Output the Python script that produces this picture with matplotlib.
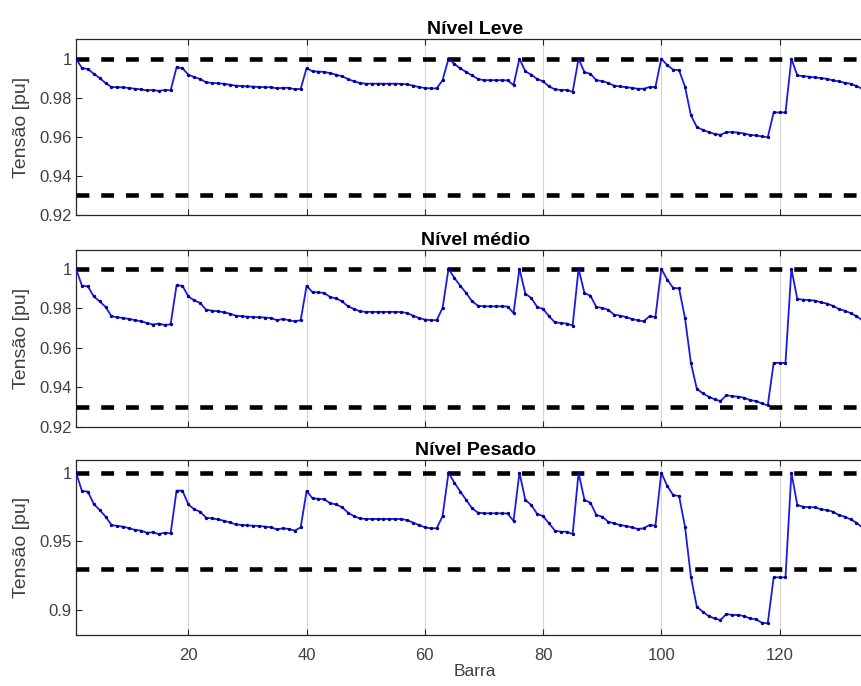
import numpy as np
import matplotlib
matplotlib.use('Agg')
import matplotlib.pyplot as plt

plt.rcParams['font.family'] = ['Liberation Sans', 'DejaVu Sans']

barra = np.arange(1, 136)

# perfil de tensao [pu] por barra
tensao_leve = [
    1.0, 0.9952, 0.9947, 0.9923, 0.9901, 0.9875, 0.9855, 0.9854, 0.9853, 0.9850,
    0.9846, 0.9843, 0.9838, 0.9840, 0.9835, 0.9840, 0.9838, 0.9955, 0.9952, 0.9918,
    0.9906, 0.9896, 0.9879, 0.9876, 0.9874, 0.9872, 0.9867, 0.9862, 0.9860, 0.9858,
    0.9857, 0.9855, 0.9854, 0.9854, 0.9848, 0.9851, 0.9851, 0.9843, 0.9846, 0.9952,
    0.9935, 0.9934, 0.9932, 0.9926, 0.9918, 0.9910, 0.9896, 0.9884, 0.9876, 0.9872,
    0.9872, 0.9872, 0.9872, 0.9872, 0.9872, 0.9871, 0.9869, 0.9862, 0.9855, 0.9850,
    0.9848, 0.9848, 0.9890, 1.0, 0.9973, 0.9950, 0.9932, 0.9914, 0.9896, 0.9890,
    0.9890, 0.9890, 0.9890, 0.9889, 0.9865, 1.0, 0.9935, 0.9918, 0.9896, 0.9884,
    0.9858, 0.9843, 0.9840, 0.9840, 0.9830, 1.0, 0.9930, 0.9923, 0.9890, 0.9885,
    0.9876, 0.9862, 0.9858, 0.9854, 0.9851, 0.9846, 0.9846, 0.9855, 0.9855, 1.0,
    0.9967, 0.9944, 0.9941, 0.9857, 0.9711, 0.9650, 0.9636, 0.9624, 0.9615, 0.9610,
    0.9624, 0.9624, 0.9622, 0.9617, 0.9610, 0.9607, 0.9602, 0.9598, 0.9725, 0.9725,
    0.9725, 1.0, 0.9914, 0.9911, 0.9908, 0.9904, 0.9901, 0.9897, 0.9889, 0.9884,
    0.9877, 0.9872, 0.9860, 0.9846, 0.9838]

tensao_medio = [
    1.0, 0.9914, 0.9911, 0.9860, 0.9835, 0.9807, 0.9760, 0.9755, 0.9751, 0.9746,
    0.9740, 0.9734, 0.9726, 0.9718, 0.9723, 0.9716, 0.9719, 0.9916, 0.9914, 0.9860,
    0.9840, 0.9827, 0.9793, 0.9788, 0.9785, 0.9780, 0.9773, 0.9763, 0.9760, 0.9758,
    0.9756, 0.9755, 0.9753, 0.9751, 0.9740, 0.9746, 0.9740, 0.9734, 0.9740, 0.9914,
    0.9881, 0.9881, 0.9877, 0.9857, 0.9850, 0.9835, 0.9810, 0.9797, 0.9785, 0.9782,
    0.9782, 0.9782, 0.9782, 0.9782, 0.9782, 0.9781, 0.9776, 0.9763, 0.9751, 0.9743,
    0.9740, 0.9740, 0.9802, 1.0, 0.9953, 0.9914, 0.9877, 0.9835, 0.9813, 0.9810,
    0.9810, 0.9810, 0.9810, 0.9809, 0.9776, 1.0, 0.9874, 0.9852, 0.9807, 0.9797,
    0.9760, 0.9729, 0.9726, 0.9723, 0.9713, 1.0, 0.9877, 0.9864, 0.9807, 0.9802,
    0.9793, 0.9768, 0.9763, 0.9756, 0.9746, 0.9740, 0.9734, 0.9760, 0.9756, 1.0,
    0.9945, 0.9903, 0.9901, 0.9751, 0.9524, 0.9393, 0.9370, 0.9353, 0.9340, 0.9331,
    0.9360, 0.9356, 0.9353, 0.9348, 0.9336, 0.9331, 0.9319, 0.9309, 0.9524, 0.9524,
    0.9524, 1.0, 0.9847, 0.9844, 0.9841, 0.9839, 0.9830, 0.9824, 0.9813, 0.9797,
    0.9788, 0.9776, 0.9760, 0.9740, 0.9735]

tensao_pesado = [
    1.0, 0.9867, 0.9862, 0.9772, 0.9728, 0.9680, 0.9619, 0.9612, 0.9607, 0.9595,
    0.9583, 0.9578, 0.9563, 0.9566, 0.9553, 0.9563, 0.9558, 0.9869, 0.9869, 0.9769,
    0.9733, 0.9716, 0.9672, 0.9667, 0.9660, 0.9650, 0.9638, 0.9624, 0.9619, 0.9616,
    0.9614, 0.9612, 0.9607, 0.9602, 0.9587, 0.9595, 0.9590, 0.9578, 0.9602, 0.9867,
    0.9813, 0.9810, 0.9806, 0.9777, 0.9769, 0.9748, 0.9709, 0.9684, 0.9667, 0.9663,
    0.9663, 0.9663, 0.9663, 0.9663, 0.9663, 0.9662, 0.9655, 0.9636, 0.9619, 0.9602,
    0.9595, 0.9595, 0.9684, 1.0, 0.9927, 0.9862, 0.9801, 0.9740, 0.9709, 0.9704,
    0.9704, 0.9704, 0.9704, 0.9703, 0.9648, 1.0, 0.9801, 0.9765, 0.9699, 0.9684,
    0.9631, 0.9578, 0.9570, 0.9570, 0.9553, 1.0, 0.9801, 0.9782, 0.9692, 0.9680,
    0.9643, 0.9631, 0.9619, 0.9612, 0.9602, 0.9590, 0.9595, 0.9619, 0.9614, 1.0,
    0.9903, 0.9837, 0.9830, 0.9607, 0.9243, 0.9024, 0.8988, 0.8956, 0.8939, 0.8927,
    0.8971, 0.8964, 0.8964, 0.8956, 0.8939, 0.8932, 0.8908, 0.8903, 0.9238, 0.9238,
    0.9238, 1.0, 0.9765, 0.9752, 0.9748, 0.9748, 0.9733, 0.9728, 0.9716, 0.9692,
    0.9680, 0.9660, 0.9636, 0.9602, 0.9590]

titulos = ['Nível Leve', 'Nível médio', 'Nível Pesado']
limite_sup = 1.0
limite_inf = 0.93
xticks = [20, 40, 60, 80, 100, 120]
yticks = [[0.92, 0.94, 0.96, 0.98, 1], [0.92, 0.94, 0.96, 0.98, 1], [0.9, 0.95, 1]]
yticklabels = [['0.92', '0.94', '0.96', '0.98', '1'], ['0.92', '0.94', '0.96', '0.98', '1'], ['0.9', '0.95', '1']]
ylims = [(0.92, 1.0101), (0.92, 1.0095), (0.8818, 1.0092)]

fig = plt.figure(figsize=(8.61, 6.86), dpi=100)
# the original is cropped on the right, so the axes run past the figure edge
posicoes = [[0.0883, 0.6866, 0.927, 0.2566],
            [0.0883, 0.3776, 0.927, 0.2580],
            [0.0883, 0.0743, 0.927, 0.2551]]
series = [tensao_leve, tensao_medio, tensao_pesado]

for i in range(3):
    ax = fig.add_axes(posicoes[i])
    ax.axhline(limite_sup, color='black', lw=3.3, dashes=(2.8, 2.6), zorder=3)
    ax.axhline(limite_inf, color='black', lw=3.3, dashes=(2.8, 2.6), zorder=3)
    ax.plot(barra, series[i], '.-', color='#1a1ae0', lw=1.3, ms=2.8,
            mfc='#000090', mec='#000090', zorder=4)
    ax.set_xlim(1, 136)
    ax.set_ylim(ylims[i])
    ax.set_xticks(xticks)
    ax.set_yticks(yticks[i])
    ax.set_yticklabels(yticklabels[i])
    ax.grid(axis='x', color='#d6d6d6', lw=0.8)
    ax.set_axisbelow(True)
    ax.tick_params(direction='in', length=4.5, width=0.8, top=True, right=True,
                   labelsize=12, labelcolor='#404040', color='#262626')
    ax.tick_params(axis='x', pad=9)
    ax.tick_params(axis='y', pad=3)
    for s in ax.spines.values():
        s.set_color('#262626')
        s.set_linewidth(0.9)
    ax.set_title(titulos[i], fontsize=14, fontweight='bold', pad=3.5)
    ax.set_ylabel('Tensão [pu]', fontsize=14, color='#404040')
    ax.yaxis.set_label_coords(-0.058, 0.5)
    if i < 2:
        ax.set_xticklabels([])
    else:
        ax.set_xlabel('Barra', fontsize=12.5, color='#404040', labelpad=1)

fig.savefig('out.png', dpi=100)
